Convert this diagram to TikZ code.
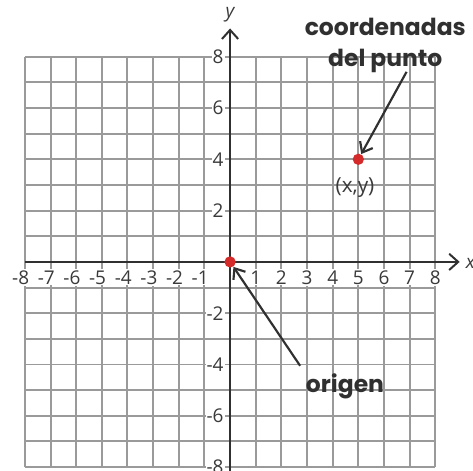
\documentclass[tikz,border=0pt]{standalone}
\usepackage{fontspec}
\setmainfont{Open Sans}
\newfontfamily\headfont{Poppins}
\usetikzlibrary{arrows.meta,calc}
\definecolor{gridgray}{HTML}{9A9A9A}
\definecolor{axisdark}{HTML}{303030}
\definecolor{textgray}{HTML}{3A3A3A}
\definecolor{dotred}{HTML}{D42A2A}
\tikzset{
  gridline/.style={draw=gridgray, line width=1.1pt, step=0.5cm},
  axisline/.style={draw=axisdark, line width=1.1pt, -{Straight Barb[length=5pt,width=9pt,line width=1.1pt]}},
  ticklab/.style={font=\fontsize{10.5}{11}\selectfont, text=textgray, fill=white, inner sep=0.6pt},
  axlab/.style={font=\fontsize{10.5}{10}\selectfont\itshape, text=textgray, inner sep=0pt},
  dot/.style={circle, fill=dotred, draw=none, minimum size=0.44*0.5cm, inner sep=0pt},
  boldlab/.style={font=\headfont\bfseries\fontsize{13}{17}\selectfont, text=axisdark, align=center, inner sep=1pt},
  pointlab/.style={font=\fontsize{11.5}{12}\selectfont, text=textgray, inner sep=0pt},
  pointer/.style={draw=axisdark, line width=1.2pt, -{Straight Barb[length=5pt,width=8pt,line width=1.2pt]}}
}
\begin{document}
\begin{tikzpicture}[x=0.5cm,y=0.5cm]
\useasboundingbox (-8.97,-8.15) rectangle (9.47,10.21);
\fill[white] (-8.97,-8.15) rectangle (9.47,10.21);
% grid
\draw[gridline] (-8,-8) grid (8,8);
% axes
\coordinate (xs) at (-8,0);
\coordinate (xe) at (8.95,0);
\coordinate (ys) at (0,-8.3);
\coordinate (ye) at (0,9.1);
\draw[axisline] (xs) -- (xe);
\draw[axisline] (ys) -- (ye);
\node[axlab] (xl) at (9.37,-0.05) {x};
\node[axlab] (yl) at (0,9.65) {y};
% x tick labels
\foreach \i in {-8,...,-1} {
  \node[ticklab, anchor=north east] (xn\i) at (\i+0.22,-0.28) {-\the\numexpr-\i\relax};
}
\foreach \i in {1,...,8} {
  \node[ticklab, anchor=north] (xp\i) at (\i,-0.28) {\i};
}
% y tick labels
\foreach \j in {2,4,6,8} {
  \node[ticklab, anchor=east] (yp\j) at (-0.2,\j) {\j};
  \node[ticklab, anchor=east] (yn\j) at (-0.2,-\j) {-\j};
}
% points
\node[dot] (O) at (0,0) {};
\node[dot] (P) at (5,4) {};
\node[pointlab] (Plab) at (4.87,2.88) {(x,y)};
% labels
\node[boldlab] (coord) at (6.05,8.45) {coordenadas\\del punto};
\coordinate (cstart) at (6.88,7.41);
\draw[pointer] (cstart) -- (P);
\node[boldlab] (orig) at (4.48,-4.85) {origen};
\coordinate (ostart) at (2.73,-4.05);
\draw[pointer] (ostart) -- (O);
\end{tikzpicture}
\end{document}
